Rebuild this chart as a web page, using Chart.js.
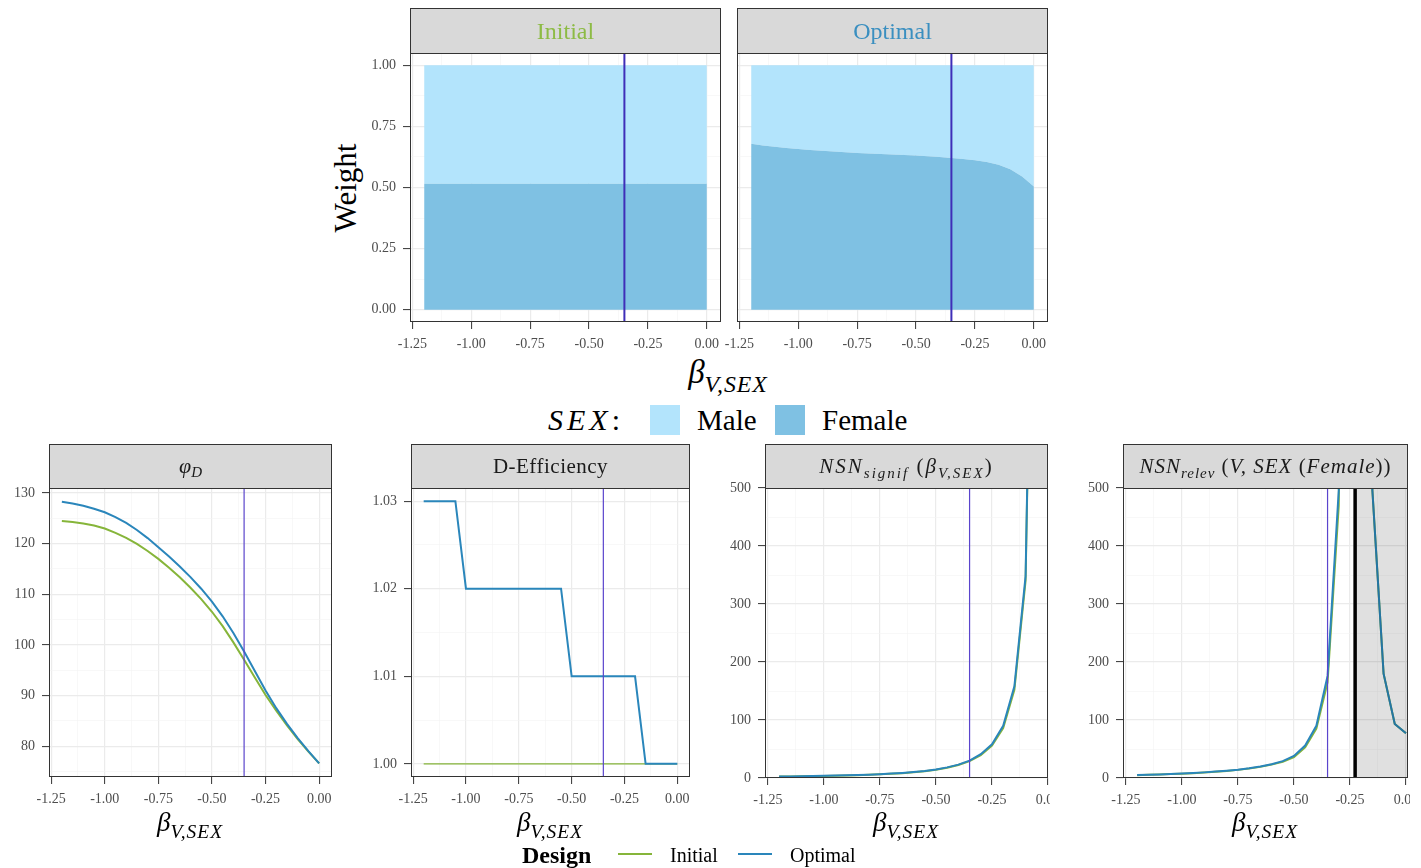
<!DOCTYPE html>
<html>
<head>
<meta charset="utf-8">
<title>Weights, phi_D, D-efficiency and NSN by beta</title>
<script src="https://cdn.jsdelivr.net/npm/chart.js@4.4.1/dist/chart.umd.min.js"></script>
<style>
  body { margin: 0; background: #fff; }
  #page { position: relative; width: 1421px; height: 868px; overflow: hidden; font-family: "Liberation Serif", serif; color: #000; }
  .panel { position: absolute; overflow: hidden; }
  .panel canvas { display: block; }
  .txt { position: absolute; white-space: nowrap; line-height: 1; }
  .mid { transform: translate(-50%, -50%); }
  .vmid { transform: translateY(-50%); }
  sub { font-size: 0.72em; vertical-align: -0.4em; line-height: 0; letter-spacing: 1px; }
  .key { position: absolute; }
</style>
</head>
<body>
<div id="page">
  <div class="txt" style="left:345px;top:188px;font-size:31px;transform:translate(-50%,-50%) rotate(-90deg);">Weight</div>
  <div class="txt mid" style="left:728px;top:372px;font-size:33px;"><i>β</i><sub><i>V,SEX</i></sub></div>
</div>

<script>
// values, beta grid step 0.05
const beta = [-1.2, -1.15, -1.1, -1.05, -1.0, -0.95, -0.9, -0.85, -0.8, -0.75, -0.7, -0.65, -0.6,
              -0.55, -0.5, -0.45, -0.4, -0.35, -0.3, -0.25, -0.2, -0.15, -0.1, -0.05, 0];
const designs = ['Initial', 'Optimal'];
const sexLevels = ['Male', 'Female'];
const trueBeta = -0.35;
const relevanceBound = -0.227;

const femaleWeightInitial = [0.515, 0.515, 0.515, 0.515, 0.515, 0.515, 0.515, 0.515, 0.515, 0.515, 0.515, 0.515, 0.515,
                             0.515, 0.515, 0.515, 0.515, 0.515, 0.515, 0.515, 0.515, 0.515, 0.515, 0.515, 0.515];
const maleWeightInitial = [0.485, 0.485, 0.485, 0.485, 0.485, 0.485, 0.485, 0.485, 0.485, 0.485, 0.485, 0.485, 0.485,
                           0.485, 0.485, 0.485, 0.485, 0.485, 0.485, 0.485, 0.485, 0.485, 0.485, 0.485, 0.485];
const femaleWeightOptimal = [0.679, 0.672, 0.667, 0.662, 0.657, 0.653, 0.650, 0.647, 0.644, 0.641, 0.639, 0.637, 0.635,
                             0.633, 0.631, 0.628, 0.625, 0.621, 0.617, 0.611, 0.604, 0.593, 0.575, 0.545, 0.504];
const maleWeightOptimal = [0.321, 0.328, 0.333, 0.338, 0.343, 0.347, 0.350, 0.353, 0.356, 0.359, 0.361, 0.363, 0.365,
                           0.367, 0.369, 0.372, 0.375, 0.379, 0.383, 0.389, 0.396, 0.407, 0.425, 0.455, 0.496];

const phiDInitial = [124.5, 124.3, 124.0, 123.6, 123.0, 122.15, 121.15, 119.95, 118.55, 117.0, 115.25, 113.35, 111.3,
                     109.05, 106.55, 103.7, 100.5, 97.05, 93.55, 90.1, 87.0, 84.1, 81.4, 78.9, 76.6];
const phiDOptimal = [128.3, 127.95, 127.5, 126.9, 126.2, 125.25, 124.1, 122.7, 121.1, 119.3, 117.45, 115.5, 113.4,
                     111.1, 108.55, 105.65, 102.35, 98.7, 94.85, 91.0, 87.5, 84.4, 81.6, 79.0, 76.6];

const dEffInitial = [1.00, 1.00, 1.00, 1.00, 1.00, 1.00, 1.00, 1.00, 1.00, 1.00, 1.00, 1.00, 1.00,
                     1.00, 1.00, 1.00, 1.00, 1.00, 1.00, 1.00, 1.00, 1.00, 1.00, 1.00, 1.00];
const dEffOptimal = [1.03, 1.03, 1.03, 1.03, 1.02, 1.02, 1.02, 1.02, 1.02, 1.02, 1.02, 1.02, 1.02,
                     1.02, 1.01, 1.01, 1.01, 1.01, 1.01, 1.01, 1.01, 1.00, 1.00, 1.00, 1.00];

const nsnSignifInitial = [2.5, 2.7, 3.0, 3.3, 3.6, 4.0, 4.4, 4.9, 5.5, 6.3, 7.2, 8.4, 9.9,
                          11.7, 14.2, 17.6, 22.3, 29, 39.5, 56, 86, 152, 340, 1400, null];
const nsnSignifOptimal = [2.6, 2.8, 3.1, 3.4, 3.7, 4.1, 4.6, 5.1, 5.8, 6.6, 7.6, 8.8, 10.3,
                          12.2, 14.8, 18.3, 23.1, 30, 41, 58, 90, 158, 348, 1420, null];

const nsnRelevInitial = [4.8, 5.4, 6.0, 6.7, 7.5, 8.4, 9.4, 10.7, 12.2, 14.0, 16.3, 19.2, 23.1,
                         28, 36, 53, 85, 165, 470, 2500, 3000, 496, 180, 93, 77];
const nsnRelevOptimal = [5.0, 5.6, 6.2, 6.9, 7.7, 8.6, 9.7, 11.0, 12.5, 14.4, 16.8, 19.8, 23.8,
                         29, 38, 56, 90, 176, 496, 2600, 3100, 496, 180, 93, 77];

const xTicks = [-1.25, -1.0, -0.75, -0.5, -0.25, 0];
const xTickLabels = ['-1.25', '-1.00', '-0.75', '-0.50', '-0.25', '0.00'];
const weightTicks = [0, 0.25, 0.5, 0.75, 1];
const weightTickLabels = ['0.00', '0.25', '0.50', '0.75', '1.00'];
const phiTicks = [80, 90, 100, 110, 120, 130];
const phiTickLabels = ['80', '90', '100', '110', '120', '130'];
const dEffTicks = [1.0, 1.01, 1.02, 1.03];
const dEffTickLabels = ['1.00', '1.01', '1.02', '1.03'];
const nsnTicks = [0, 100, 200, 300, 400, 500];
const nsnTickLabels = ['0', '100', '200', '300', '400', '500'];

// colours
const designColors = { Initial: '#86B53A', Optimal: '#2A86BB' };
const stripTextColors = { Initial: '#8DBB45', Optimal: '#3A8FC0' };
const sexColors = { Male: '#B3E4FC', Female: '#7FC1E3' };

const FAMILY = "'Liberation Serif', serif";
const page = document.getElementById('page');

function pts(values) {
    return beta.map((b, i) => ({ x: b, y: values[i] }));
}

function isMajor(v, major) {
    return major.some(m => Math.abs(m - v) < 1e-9);
}

// major ticks plus ggplot style minor ticks half way in between
function buildTicks(major, min, max) {
    const step = major[1] - major[0];
    const vals = [major[0] - step / 2];
    major.forEach(m => { vals.push(m); vals.push(m + step / 2); });
    return vals.filter(v => v >= min - 1e-9 && v <= max + 1e-9).map(v => ({ value: v }));
}

function axis(pos, min, max, major, labels, size, showLabels, stacked) {
    return {
        type: 'linear', position: pos, min: min, max: max, stacked: !!stacked,
        afterBuildTicks: s => { s.ticks = buildTicks(major, min, max); },
        afterFit: s => { if (pos === 'left') s.width = size; else s.height = size; },
        ticks: {
            display: showLabels, autoSkip: false, maxRotation: 0, minRotation: 0,
            padding: 7, color: '#4D4D4D', font: { family: FAMILY, size: 14 },
            callback: v => {
                const i = major.findIndex(m => Math.abs(m - v) < 1e-9);
                return i >= 0 ? labels[i] : '';
            }
        },
        grid: {
            drawTicks: showLabels, tickLength: 7, tickWidth: 1,
            color: c => (c.tick && isMajor(c.tick.value, major)) ? '#EBEBEB' : '#F3F3F3',
            lineWidth: c => (c.tick && isMajor(c.tick.value, major)) ? 1.2 : 0.6,
            tickColor: c => (c.tick && isMajor(c.tick.value, major)) ? '#333333' : 'rgba(0,0,0,0)'
        },
        border: { display: false }
    };
}

function drawRich(ctx, parts, cx, baseline, spacing) {
    ctx.letterSpacing = (spacing || 0) + 'px';
    let total = 0;
    parts.forEach(p => { ctx.font = p.font; p.w = ctx.measureText(p.text).width; total += p.w; });
    let x = cx - total / 2;
    ctx.textBaseline = 'alphabetic';
    ctx.textAlign = 'left';
    parts.forEach(p => {
        ctx.font = p.font;
        ctx.fillStyle = p.color || '#1A1A1A';
        ctx.fillText(p.text, x, baseline + (p.dy || 0));
        x += p.w;
    });
    ctx.letterSpacing = '0px';
}

// facet strip, panel border, reference lines and the shaded zone
const panelDecor = {
    id: 'panelDecor',
    afterDatasetsDraw(chart, args, opts) {
        const { ctx, chartArea: a } = chart;
        const x = chart.scales.x;
        ctx.save();
        ctx.beginPath();
        ctx.rect(a.left, a.top, a.right - a.left, a.bottom - a.top);
        ctx.clip();
        if (opts.shadeFrom != null) {
            const px = x.getPixelForValue(opts.shadeFrom);
            ctx.fillStyle = 'rgba(0,0,0,0.12)';
            ctx.fillRect(px, a.top, a.right - px, a.bottom - a.top);
        }
        (opts.vlines || []).forEach(l => {
            const px = x.getPixelForValue(l.value);
            ctx.strokeStyle = l.color;
            ctx.lineWidth = l.width;
            ctx.beginPath();
            ctx.moveTo(px, a.top);
            ctx.lineTo(px, a.bottom);
            ctx.stroke();
        });
        ctx.restore();
    },
    afterDraw(chart, args, opts) {
        const { ctx, chartArea: a } = chart;
        const h = opts.stripHeight;
        ctx.save();
        ctx.fillStyle = '#D9D9D9';
        ctx.fillRect(a.left, a.top - h, a.right - a.left, h);
        ctx.strokeStyle = '#333333';
        ctx.lineWidth = 1;
        ctx.strokeRect(a.left + 0.5, a.top - h + 0.5, a.right - a.left - 1, h);
        ctx.strokeRect(a.left + 0.5, a.top + 0.5, a.right - a.left - 1, a.bottom - a.top - 1);
        drawRich(ctx, opts.title, (a.left + a.right) / 2, a.top - h / 2 + opts.baseShift, opts.spacing);
        ctx.restore();
    }
};

function makePanel(p) {
    const wrap = document.createElement('div');
    wrap.className = 'panel';
    Object.assign(wrap.style, { left: p.left + 'px', top: p.top + 'px', width: (p.clipW || p.w) + 'px', height: p.h + 'px' });
    const canvas = document.createElement('canvas');
    canvas.width = p.w;
    canvas.height = p.h;
    wrap.appendChild(canvas);
    page.appendChild(wrap);
    return new Chart(canvas, {
        type: 'line',
        data: { datasets: p.datasets },
        options: {
            responsive: false, animation: false, events: [],
            layout: { padding: { top: p.area.t, right: p.w - p.area.r, left: 0, bottom: 0 } },
            scales: {
                x: axis('bottom', p.xMin, p.xMax, xTicks, xTickLabels, p.h - p.area.b, true),
                y: axis('left', p.yMin, p.yMax, p.yTicks, p.yLabels, p.area.l, p.yLabelsShown, p.stacked)
            },
            plugins: {
                legend: { display: false },
                tooltip: { enabled: false },
                panelDecor: { title: p.title, stripHeight: p.stripH, baseShift: p.baseShift, spacing: p.spacing,
                              vlines: p.vlines, shadeFrom: p.shadeFrom }
            }
        },
        plugins: [panelDecor]
    });
}

const areaStyle = { borderWidth: 0, borderColor: 'rgba(0,0,0,0)', pointRadius: 0, tension: 0 };
function weightSets(female, male) {
    return [
        Object.assign({ label: 'Female', data: pts(female), backgroundColor: sexColors.Female, fill: 'origin' }, areaStyle),
        Object.assign({ label: 'Male', data: pts(male), backgroundColor: sexColors.Male, fill: '-1' }, areaStyle)
    ];
}
function curve(design, values, width) {
    return { label: design, data: pts(values), borderColor: designColors[design], borderWidth: width || 2,
             pointRadius: 0, tension: 0, fill: false };
}

const F = (size, style) => (style ? style + ' ' : '') + size + 'px ' + FAMILY;
const topLine = [{ value: trueBeta, color: '#3F2EB8', width: 2 }];
const bottomLine = [{ value: trueBeta, color: '#5A44CC', width: 1.2 }];

// top row: weights by design
makePanel({
    left: 350, top: 0, w: 382, h: 360, area: { l: 60, t: 53, r: 371, b: 322 }, stripH: 45, baseShift: 8,
    xMin: -1.26, xMax: 0.06, yMin: -0.05, yMax: 1.05, yTicks: weightTicks, yLabels: weightTickLabels,
    yLabelsShown: true, stacked: true,
    title: [{ text: designs[0], font: F(24), color: stripTextColors.Initial }],
    datasets: weightSets(femaleWeightInitial, maleWeightInitial), vlines: topLine
});
makePanel({
    left: 715, top: 0, w: 345, h: 360, area: { l: 22, t: 53, r: 333, b: 322 }, stripH: 45, baseShift: 8,
    xMin: -1.26, xMax: 0.06, yMin: -0.05, yMax: 1.05, yTicks: weightTicks, yLabels: weightTickLabels,
    yLabelsShown: false, stacked: true,
    title: [{ text: designs[1], font: F(24), color: stripTextColors.Optimal }],
    datasets: weightSets(femaleWeightOptimal, maleWeightOptimal), vlines: topLine
});

// bottom row: criteria by design
makePanel({
    left: 0, top: 436, w: 350, h: 380, area: { l: 49, t: 52, r: 332, b: 341 }, stripH: 44, baseShift: 7,
    xMin: -1.26, xMax: 0.06, yMin: 73.9, yMax: 131.0, yTicks: phiTicks, yLabels: phiTickLabels, yLabelsShown: true,
    title: [{ text: 'φ', font: F(22, 'italic') }, { text: 'D', font: F(15, 'italic'), dy: 4 }],
    datasets: [curve('Optimal', phiDOptimal), curve('Initial', phiDInitial)], vlines: bottomLine
});
makePanel({
    left: 350, top: 436, w: 350, h: 380, area: { l: 61, t: 52, r: 340, b: 341 }, stripH: 44, baseShift: 7,
    xMin: -1.26, xMax: 0.06, yMin: 0.9985, yMax: 1.0315, yTicks: dEffTicks, yLabels: dEffTickLabels, yLabelsShown: true,
    title: [{ text: 'D-Efficiency', font: F(21) }], spacing: 0.5,
    datasets: [curve('Optimal', dEffOptimal), curve('Initial', dEffInitial, 1.3)], vlines: bottomLine
});
makePanel({
    left: 700, top: 436, w: 370, clipW: 350, h: 380, area: { l: 65, t: 52, r: 348, b: 342 }, stripH: 44, baseShift: 7,
    xMin: -1.263, xMax: 0, yMin: 0, yMax: 500, yTicks: nsnTicks, yLabels: nsnTickLabels, yLabelsShown: true,
    spacing: 2,
    title: [
        { text: 'NSN', font: F(21, 'italic') }, { text: 'signif', font: F(15, 'italic'), dy: 5 },
        { text: ' (', font: F(21) }, { text: 'β', font: F(21, 'italic') },
        { text: 'V,SEX', font: F(15, 'italic'), dy: 5 }, { text: ')', font: F(21) }
    ],
    datasets: [curve('Optimal', nsnSignifOptimal), curve('Initial', nsnSignifInitial)], vlines: bottomLine
});
makePanel({
    left: 1050, top: 436, w: 380, clipW: 360, h: 380, area: { l: 73, t: 52, r: 358, b: 342 }, stripH: 44, baseShift: 7,
    xMin: -1.263, xMax: 0.009, yMin: 0, yMax: 500, yTicks: nsnTicks, yLabels: nsnTickLabels, yLabelsShown: true,
    spacing: 1,
    title: [
        { text: 'NSN', font: F(21, 'italic') }, { text: 'relev', font: F(15, 'italic'), dy: 5 },
        { text: ' (', font: F(21) }, { text: 'V, SEX', font: F(21, 'italic') }, { text: ' (', font: F(21) },
        { text: 'Female', font: F(21, 'italic') }, { text: '))', font: F(21) }
    ],
    datasets: [curve('Optimal', nsnRelevOptimal), curve('Initial', nsnRelevInitial)],
    shadeFrom: relevanceBound,
    vlines: [bottomLine[0], { value: relevanceBound, color: '#000000', width: 3.5 }]
});

// html labels: bottom axis titles and the two legends
function addText(html, left, top, size, cls, extra) {
    const d = document.createElement('div');
    d.className = 'txt ' + cls;
    d.style.left = left + 'px';
    d.style.top = top + 'px';
    d.style.fontSize = size + 'px';
    if (extra) Object.assign(d.style, extra);
    d.innerHTML = html;
    page.appendChild(d);
    return d;
}
function addKey(left, top, w, h, color) {
    const d = document.createElement('div');
    d.className = 'key';
    Object.assign(d.style, { left: left + 'px', top: top + 'px', width: w + 'px', height: h + 'px', background: color });
    page.appendChild(d);
}

[190, 550, 906, 1265].forEach(cx => addText('<i>β</i><sub><i>V,SEX</i></sub>', cx, 822, 27, 'mid'));

addText('<i>SEX</i>:', 548, 420, 30, 'vmid', { letterSpacing: '4px' });
const sexKeyX = [650, 775];
sexLevels.forEach((s, i) => {
    addKey(sexKeyX[i], 405, 30, 30, sexColors[s]);
    addText(s, sexKeyX[i] + 47, 420, 29, 'vmid');
});

addText('<b>Design</b>', 522, 855, 24, 'vmid');
const designKeyX = [618, 738];
designs.forEach((d, i) => {
    addKey(designKeyX[i], 853, 34, 2, designColors[d]);
    addText(d, designKeyX[i] + 52, 855, 20, 'vmid');
});
</script>
</body>
</html>
